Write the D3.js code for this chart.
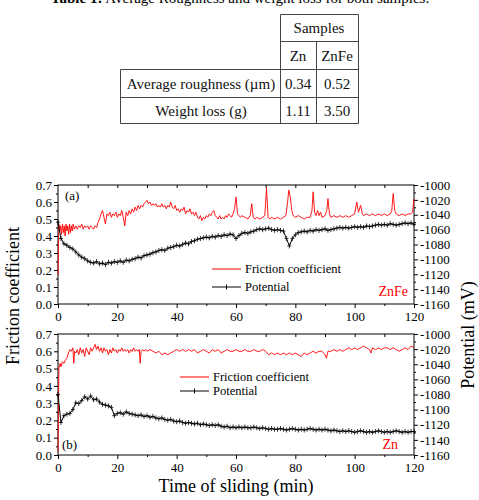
<!DOCTYPE html>
<html><head><meta charset="utf-8">
<script src="https://cdn.jsdelivr.net/npm/d3@7"></script>
<style>body{margin:0;background:#fff}svg{display:block}</style>
</head><body><svg id="c" width="479" height="500"></svg>
<script>
// ---------- data ----------
const captionBold = "Table 1:";
const captionText = " Average Roughness and weight loss for both samples.";
const tableHeader = "Samples";
const sampleNames = ["Zn", "ZnFe"];
const rowLabels = ["Average roughness (\u00b5m)", "Weight loss (g)"];
const roughnessVals = ["0.34", "0.52"];
const weightLossVals = ["1.11", "3.50"];

const xTicks = [0, 20, 40, 60, 80, 100, 120];
const frictionTicks = [0, 0.1, 0.2, 0.3, 0.4, 0.5, 0.6, 0.7];
const potentialTicks = [-1160, -1140, -1120, -1100, -1080, -1060, -1040, -1020, -1000];

// panel (a) ZnFe friction coefficient: [time(min), value]
const frictionZnFe = [[0,0.17],[0.3,0.47],[0.6,0.43],[0.9,0.46],[1.2,0.41],[1.5,0.47],[1.8,0.42],[2.1,0.46],[2.4,0.40],[2.7,0.47],[3,0.43],[3.3,0.46],[3.6,0.41],[3.9,0.47],[4.2,0.42],[4.5,0.46],[4.8,0.43],[5.1,0.47],[5.5,0.44],[6,0.46],[6.5,0.44],[7,0.46],[7.5,0.45],[8,0.47],[8.5,0.44],[9,0.46],[9.5,0.45],[10,0.46],[10.5,0.44],[11,0.46],[11.5,0.45],[12,0.44],[12.5,0.46],[13,0.45],[13.5,0.48],[14,0.50],[14.5,0.53],[15,0.55],[15.5,0.51],[16,0.47],[16.5,0.53],[17,0.52],[17.5,0.54],[18,0.51],[18.5,0.53],[19,0.52],[19.5,0.54],[20,0.51],[20.5,0.53],[21,0.52],[21.5,0.55],[22,0.51],[22.5,0.46],[23,0.54],[23.5,0.52],[24,0.55],[24.5,0.53],[25,0.56],[25.5,0.54],[26,0.57],[26.5,0.55],[27,0.58],[27.5,0.56],[28,0.58],[28.5,0.57],[29,0.59],[29.5,0.60],[30,0.61],[30.5,0.59],[31,0.60],[31.5,0.58],[32,0.59],[32.5,0.58],[33,0.59],[33.5,0.57],[34,0.58],[34.5,0.57],[35,0.59],[35.5,0.57],[36,0.58],[36.5,0.56],[37,0.58],[37.5,0.57],[38,0.60],[38.5,0.57],[39,0.56],[39.5,0.58],[40,0.55],[40.5,0.56],[41,0.54],[41.5,0.56],[42,0.55],[42.5,0.57],[43,0.53],[43.5,0.55],[44,0.54],[44.5,0.56],[45,0.53],[45.5,0.54],[46,0.52],[46.5,0.54],[47,0.51],[47.5,0.50],[48,0.52],[48.5,0.49],[49,0.51],[49.5,0.50],[50,0.52],[50.5,0.51],[51,0.53],[51.5,0.52],[52,0.54],[52.5,0.55],[53,0.52],[53.5,0.51],[54,0.50],[54.5,0.52],[55,0.50],[55.5,0.51],[56,0.50],[56.5,0.52],[57,0.51],[57.5,0.53],[58,0.52],[58.5,0.51],[59,0.53],[59.5,0.56],[60,0.63],[60.5,0.53],[61,0.52],[61.5,0.51],[62,0.52],[63,0.51],[64,0.50],[64.8,0.52],[65.3,0.59],[65.8,0.51],[66.5,0.50],[67,0.51],[68,0.50],[69,0.51],[69.7,0.52],[70.3,0.68],[70.8,0.51],[71.5,0.50],[72,0.51],[73,0.50],[74,0.51],[75,0.50],[76,0.51],[76.8,0.52],[77.4,0.60],[77.8,0.67],[78.3,0.63],[78.8,0.55],[79.3,0.52],[80,0.51],[81,0.52],[82,0.51],[83,0.50],[84,0.51],[85,0.51],[85.6,0.55],[86,0.66],[86.5,0.54],[87,0.52],[87.5,0.55],[88,0.52],[88.5,0.54],[89,0.51],[90,0.52],[90.6,0.55],[91,0.62],[91.5,0.53],[92,0.51],[93,0.52],[94,0.51],[95,0.52],[96,0.51],[97,0.52],[98,0.51],[99,0.52],[100,0.53],[100.7,0.60],[101.3,0.54],[102,0.58],[102.6,0.53],[103,0.52],[104,0.53],[105,0.52],[106,0.53],[107,0.52],[108,0.53],[109,0.52],[110,0.53],[111,0.52],[112,0.53],[112.5,0.55],[113,0.65],[113.5,0.55],[114,0.53],[115,0.52],[116,0.53],[117,0.52],[118,0.53],[119,0.53],[119.5,0.54],[120,0.62]];

// panel (a) ZnFe potential (mV), one reading per minute from 0 to 120
const potentialZnFe = [-1050,-1072,-1079,-1081,-1084,-1086,-1090,-1094,-1097,-1099,-1102,-1104,-1105,-1103,-1106,-1105,-1107,-1104,-1105,-1103,-1104,-1102,-1104,-1101,-1102,-1100,-1099,-1097,-1098,-1095,-1094,-1093,-1091,-1090,-1088,-1087,-1088,-1085,-1084,-1083,-1081,-1082,-1080,-1078,-1079,-1076,-1075,-1073,-1072,-1071,-1070,-1071,-1069,-1070,-1068,-1069,-1067,-1068,-1066,-1067,-1072,-1068,-1065,-1064,-1065,-1063,-1062,-1060,-1059,-1060,-1059,-1058,-1060,-1061,-1060,-1061,-1062,-1072,-1082,-1072,-1067,-1064,-1063,-1062,-1063,-1061,-1062,-1060,-1061,-1060,-1059,-1061,-1060,-1059,-1058,-1057,-1058,-1057,-1058,-1057,-1056,-1057,-1056,-1057,-1055,-1056,-1055,-1054,-1053,-1054,-1053,-1054,-1052,-1053,-1054,-1053,-1052,-1051,-1052,-1051,-1053];

// panel (b) Zn friction coefficient: [time(min), value]
const frictionZn = [[0,0.02],[0.3,0.50],[0.7,0.53],[1,0.51],[1.5,0.54],[2,0.53],[2.5,0.55],[3,0.56],[3.5,0.59],[4,0.61],[4.5,0.60],[5,0.62],[5.3,0.53],[5.6,0.60],[6,0.59],[6.5,0.61],[7,0.58],[7.5,0.62],[8,0.59],[8.5,0.61],[9,0.57],[9.5,0.62],[10,0.60],[10.5,0.58],[11,0.62],[11.5,0.60],[12,0.62],[12.5,0.64],[13,0.61],[13.5,0.63],[14,0.60],[14.5,0.62],[15,0.59],[15.5,0.62],[16,0.60],[16.5,0.61],[17,0.58],[17.5,0.61],[18,0.59],[18.5,0.62],[19,0.60],[19.5,0.61],[20,0.59],[20.5,0.61],[21,0.60],[21.5,0.62],[22,0.60],[22.5,0.61],[23,0.60],[23.5,0.61],[24,0.59],[24.5,0.61],[25,0.60],[25.5,0.62],[26,0.60],[26.5,0.61],[27,0.60],[27.4,0.61],[27.7,0.53],[28,0.60],[28.5,0.61],[29,0.60],[29.5,0.61],[30,0.60],[31,0.61],[32,0.60],[33,0.59],[34,0.60],[35,0.58],[36,0.59],[37,0.58],[38,0.59],[39,0.60],[40,0.61],[41,0.60],[42,0.61],[43,0.60],[44,0.61],[45,0.60],[46,0.61],[47,0.59],[48,0.60],[49,0.61],[50,0.60],[51,0.59],[52,0.61],[53,0.60],[54,0.61],[55,0.59],[56,0.60],[57,0.61],[58,0.60],[59,0.60],[60,0.61],[61,0.60],[62,0.60],[63,0.61],[64,0.60],[65,0.60],[66,0.61],[67,0.60],[68,0.60],[69,0.61],[70,0.60],[70.5,0.59],[71,0.58],[72,0.59],[73,0.58],[74,0.59],[75,0.58],[76,0.59],[77,0.58],[78,0.59],[79,0.58],[80,0.59],[81,0.58],[82,0.57],[83,0.59],[84,0.58],[85,0.59],[86,0.60],[87,0.59],[88,0.60],[89,0.60],[90,0.58],[90.5,0.56],[91,0.60],[92,0.60],[93,0.61],[94,0.60],[95,0.61],[96,0.60],[97,0.61],[98,0.62],[99,0.61],[100,0.62],[101,0.61],[102,0.62],[103,0.63],[104,0.62],[105,0.61],[105.5,0.59],[106,0.62],[107,0.61],[108,0.62],[109,0.61],[110,0.62],[111,0.62],[112,0.61],[113,0.62],[114,0.61],[115,0.60],[116,0.61],[117,0.62],[118,0.61],[119,0.63],[120,0.62]];

// panel (b) Zn potential (mV), one reading per minute from 0 to 120
const potentialZn = [-1080,-1117,-1108,-1106,-1105,-1100,-1091,-1092,-1088,-1083,-1086,-1082,-1087,-1086,-1090,-1093,-1094,-1095,-1097,-1108,-1105,-1104,-1106,-1103,-1105,-1106,-1107,-1108,-1107,-1109,-1108,-1110,-1109,-1111,-1112,-1111,-1113,-1114,-1113,-1115,-1116,-1115,-1117,-1118,-1117,-1118,-1119,-1118,-1120,-1119,-1120,-1121,-1120,-1121,-1120,-1122,-1123,-1122,-1124,-1123,-1124,-1123,-1124,-1123,-1124,-1124,-1123,-1124,-1125,-1124,-1125,-1126,-1125,-1126,-1126,-1125,-1126,-1127,-1126,-1125,-1126,-1127,-1126,-1127,-1126,-1125,-1126,-1127,-1126,-1127,-1126,-1127,-1128,-1127,-1128,-1129,-1128,-1129,-1128,-1129,-1130,-1129,-1128,-1129,-1130,-1129,-1130,-1129,-1128,-1129,-1130,-1129,-1130,-1129,-1128,-1129,-1130,-1129,-1130,-1129,-1129];

const legendLabels = ["Friction coefficient", "Potential"];
const panels = [
  {tag: "(a)", sample: "ZnFe", friction: frictionZnFe, potential: potentialZnFe},
  {tag: "(b)", sample: "Zn", friction: frictionZn, potential: potentialZn}
];

// ---------- drawing ----------
const svg = d3.select("#c");
const FONT = "'Liberation Serif','Times New Roman',serif";
const RED = "#ff0000";

// caption & table
const cap = svg.append("text").attr("x", 240).attr("y", 3).attr("text-anchor", "middle")
  .attr("font-family", FONT).attr("font-size", 15);
cap.append("tspan").attr("font-weight", "bold").text(captionBold);
cap.append("tspan").text(captionText);

const tbl = svg.append("g").attr("stroke", "#444").attr("stroke-width", 1).attr("fill", "none");
const colX = [120, 280, 316, 358];
const rowY = [14, 41, 69, 97, 123];
tbl.append("path").attr("d",
  `M${colX[1]+.5},${rowY[0]+.5}H${colX[3]+.5}V${rowY[4]+.5}H${colX[0]+.5}V${rowY[2]+.5}H${colX[3]+.5}` +
  `M${colX[1]+.5},${rowY[0]+.5}V${rowY[4]+.5}` +
  `M${colX[1]+.5},${rowY[1]+.5}H${colX[3]+.5}` +
  `M${colX[2]+.5},${rowY[1]+.5}V${rowY[4]+.5}` +
  `M${colX[0]+.5},${rowY[3]+.5}H${colX[3]+.5}`);
const tt = svg.append("g").attr("font-family", FONT).attr("font-size", 15).attr("text-anchor", "middle").attr("fill", "#111");
tt.append("text").attr("x", (colX[1]+colX[3])/2).attr("y", 33).text(tableHeader);
sampleNames.forEach((s, i) => tt.append("text").attr("x", (colX[1+i]+colX[2+i])/2).attr("y", 61).text(s));
const rowVals = [roughnessVals, weightLossVals];
rowLabels.forEach((r, j) => {
  tt.append("text").attr("x", (colX[0]+colX[1])/2 + 1).attr("y", [89, 116][j]).text(r);
  rowVals[j].forEach((v, i) => tt.append("text").attr("x", (colX[1+i]+colX[2+i])/2).attr("y", [89, 116][j]).text(v));
});

// chart panels
const x = d3.scaleLinear().domain([0, 120]).range([58, 414]);
const panelY = [[304, 185], [455, 334]];

panels.forEach((p, k) => {
  const [yb, yt] = panelY[k];
  const yF = d3.scaleLinear().domain([0, 0.7]).range([yb, yt]);
  const yP = d3.scaleLinear().domain([-1160, -1000]).range([yb, yt]);
  const g = svg.append("g");

  // frame
  g.append("rect").attr("x", x(0)).attr("y", yt).attr("width", x(120) - x(0)).attr("height", yb - yt)
    .attr("fill", "none").attr("stroke", "#000");

  const styleAxis = sel => {
    sel.attr("font-family", FONT);
    sel.select(".domain").remove();
    sel.selectAll("line").attr("stroke", "#000");
    sel.selectAll("text").attr("font-family", FONT).attr("font-size", 13).attr("fill", "#000");
  };
  // bottom axis
  g.append("g").attr("transform", `translate(0,${yb})`)
    .call(d3.axisBottom(x).tickValues(xTicks).tickSize(4).tickPadding(4).tickFormat(d => String(d))).call(styleAxis);
  g.append("g").attr("transform", `translate(0,${yb})`)
    .call(d3.axisBottom(x).tickValues(xTicks.slice(1).map(t => t - 10)).tickSize(2).tickFormat("")).call(styleAxis);
  // top ticks
  g.append("g").attr("transform", `translate(0,${yt})`)
    .call(d3.axisBottom(x).tickValues(xTicks.slice(1).map(t => t - 10).concat(xTicks.slice(1,-1))).tickSize(3).tickFormat("")).call(styleAxis);
  // left axis
  g.append("g").attr("transform", `translate(${x(0)},0)`)
    .call(d3.axisLeft(yF).tickValues(frictionTicks).tickSize(4).tickPadding(2).tickFormat(d => d.toFixed(1))).call(styleAxis);
  g.append("g").attr("transform", `translate(${x(0)},0)`)
    .call(d3.axisLeft(yF).tickValues(frictionTicks.slice(1).map(t => t - 0.05)).tickSize(2).tickFormat("")).call(styleAxis);
  // right axis
  g.append("g").attr("transform", `translate(${x(120)},0)`)
    .call(d3.axisRight(yP).tickValues(potentialTicks).tickSize(4).tickPadding(2).tickFormat(d => String(d))).call(styleAxis);
  g.append("g").attr("transform", `translate(${x(120)},0)`)
    .call(d3.axisRight(yP).tickValues(potentialTicks.slice(1).map(t => t - 10)).tickSize(2).tickFormat("")).call(styleAxis);

  // friction line
  g.append("path").datum(p.friction)
    .attr("d", d3.line().x(d => x(d[0])).y(d => yF(d[1])))
    .attr("fill", "none").attr("stroke", RED).attr("stroke-width", 0.9);
  // potential line with + markers
  const potData = p.potential.map((v, i) => [i, v]);
  g.append("path").datum(potData)
    .attr("d", d3.line().x(d => x(d[0])).y(d => yP(d[1])))
    .attr("fill", "none").attr("stroke", "#000").attr("stroke-width", 1);
  g.append("path")
    .attr("d", potData.map(d => `M${x(d[0])},${yP(d[1]) - 2.5}v5M${x(d[0]) - 2},${yP(d[1])}h4`).join(""))
    .attr("stroke", "#000").attr("stroke-width", 0.8);

  // labels
  g.append("text").attr("x", k === 0 ? 65 : 62).attr("y", k === 0 ? 200 : 449)
    .attr("font-family", FONT).attr("font-size", 13).text(p.tag);
  g.append("text").attr("x", k === 0 ? 408 : 398).attr("y", k === 0 ? 296 : 449).attr("text-anchor", "end")
    .attr("font-family", FONT).attr("font-size", 14).attr("fill", RED).text(p.sample);

  // legend
  const lx = k === 0 ? 212 : 180, ly = k === 0 ? 269 : 377, gap = k === 0 ? 18 : 14;
  g.append("line").attr("x1", lx).attr("x2", lx + 29).attr("y1", ly).attr("y2", ly).attr("stroke", RED);
  g.append("line").attr("x1", lx).attr("x2", lx + 29).attr("y1", ly + gap).attr("y2", ly + gap).attr("stroke", "#000");
  g.append("path").attr("d", `M${lx + 14.5},${ly + gap - 2.5}v5`).attr("stroke", "#000");
  legendLabels.forEach((l, i) => g.append("text").attr("x", lx + 33).attr("y", ly + i * gap + 4)
    .attr("font-family", FONT).attr("font-size", 12.5).text(l));
});

// axis titles
svg.append("text").attr("transform", "translate(19,296) rotate(-90)").attr("text-anchor", "middle")
  .attr("font-family", FONT).attr("font-size", 18).text("Friction coefficient");
svg.append("text").attr("transform", "translate(474,335) rotate(-90)").attr("text-anchor", "middle")
  .attr("font-family", FONT).attr("font-size", 18).text("Potential (mV)");
svg.append("text").attr("x", 236).attr("y", 492).attr("text-anchor", "middle")
  .attr("font-family", FONT).attr("font-size", 18).text("Time of sliding (min)");
</script></body></html>
